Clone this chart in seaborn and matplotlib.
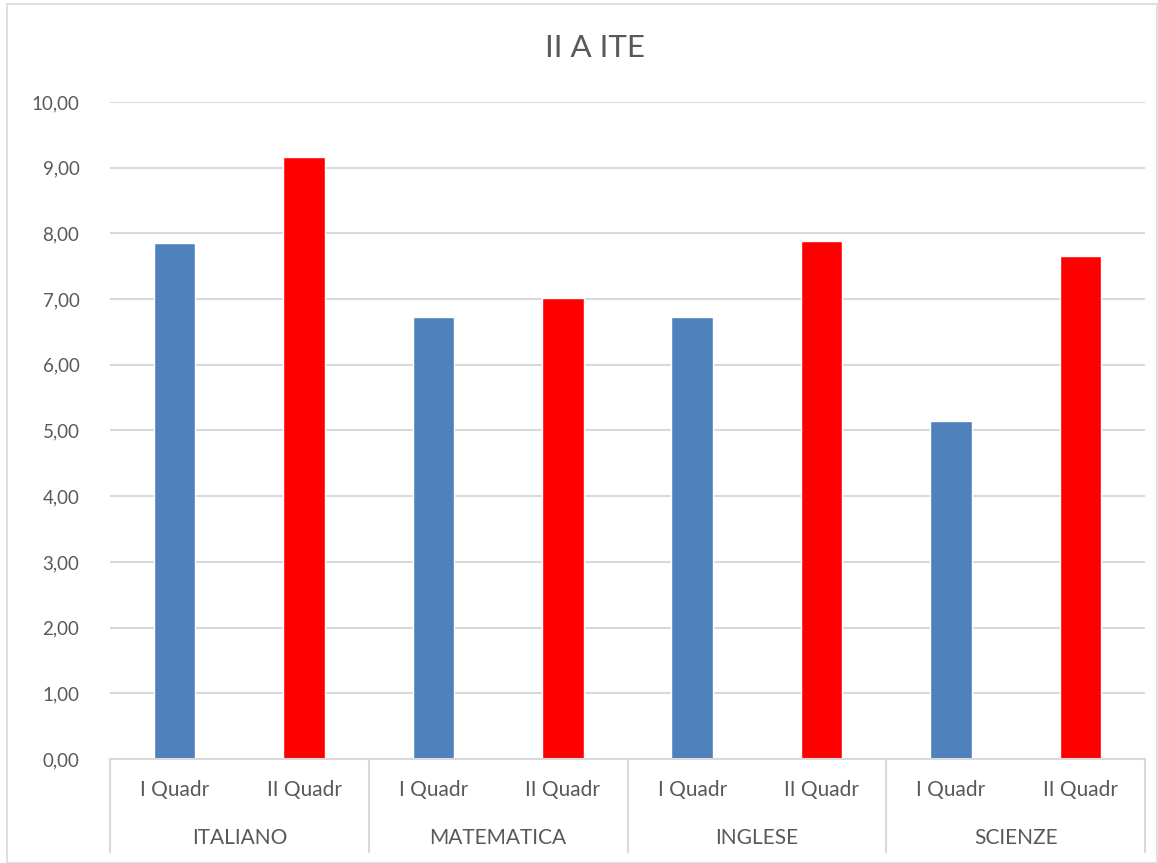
import matplotlib

matplotlib.use("Agg")
import matplotlib.pyplot as plt
import matplotlib.transforms as mtransforms
import pandas as pd
import seaborn as sns

subjects = ["ITALIANO", "MATEMATICA", "INGLESE", "SCIENZE"]
periods = ["I Quadr", "II Quadr"]
values_q1 = [7.86, 6.73, 6.72, 5.15]
values_q2 = [9.17, 7.01, 7.89, 7.66]
colors = {"I Quadr": "#4F81BD", "II Quadr": "#FF0000"}

rows = []
for i, s in enumerate(subjects):
    rows.append({"slot": 2 * i, "subject": s, "period": periods[0], "value": values_q1[i]})
    rows.append({"slot": 2 * i + 1, "subject": s, "period": periods[1], "value": values_q2[i]})
df = pd.DataFrame(rows)

sns.set_style("white")
plt.rcParams["font.family"] = ["Lato", "DejaVu Sans"]
text_col = "#595959"
grid_col = "#D9D9D9"

fig = plt.figure(figsize=(11.58, 8.63), dpi=100)
ax = fig.add_axes([110 / 1158, 104 / 863, 1035 / 1158, 657 / 863])

sns.barplot(data=df, x="slot", y="value", hue="period", palette=colors,
            dodge=False, width=0.32, legend=False, ax=ax, saturation=1)

ax.set_ylim(0, 10)
ax.set_xlim(-0.5, len(df) - 0.5)
ax.set_yticks(range(0, 11))
ax.set_yticklabels([f"{v},00" for v in range(0, 11)], color=text_col, fontsize=13.5)
ax.yaxis.grid(True, color=grid_col, linewidth=1.5)
ax.set_axisbelow(True)
for sp in ["left", "right", "top"]:
    ax.spines[sp].set_visible(False)
ax.spines["bottom"].set_color(grid_col)
ax.spines["bottom"].set_linewidth(1.5)
ax.tick_params(axis="y", length=0, pad=22)
ax.tick_params(axis="x", length=0, pad=15)
ax.set_xticks(df["slot"])
ax.set_xticklabels(df["period"], color=text_col, fontsize=15)
ax.set_xlabel("")
ax.set_ylabel("")

# second-level category labels and separators
trans = mtransforms.blended_transform_factory(ax.transData, ax.transAxes)
for i, s in enumerate(subjects):
    ax.text(2 * i + 0.5, -0.12, s, transform=trans, ha="center", va="center",
            color=text_col, fontsize=15)
for b in range(len(subjects) + 1):
    ax.plot([2 * b - 0.5, 2 * b - 0.5], [0, -0.142], transform=trans,
            color=grid_col, linewidth=1.5, clip_on=False)

fig.text(595 / 1158, 1 - 48 / 863, "II A ITE", ha="center", va="center",
         color=text_col, fontsize=22.5)

# chart area border
fig.patches.append(plt.Rectangle((7 / 1158, 0), 1 - 8 / 1158, 1 - 4 / 863,
                                 transform=fig.transFigure, fill=False,
                                 edgecolor=grid_col, linewidth=1.2))

fig.savefig("out.png", dpi=100)
